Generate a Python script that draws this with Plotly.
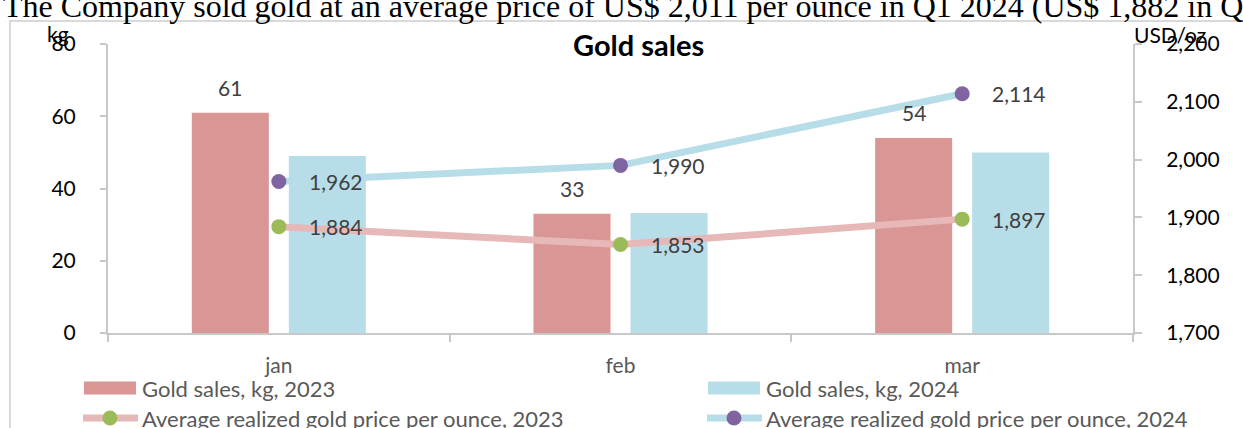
import plotly.graph_objects as go

# ---------------- data ----------------
months = ["jan", "feb", "mar"]
sales_kg_2023 = [61, 33, 54]
sales_kg_2024 = [49, 33.2, 50]
price_2023 = [1884, 1853, 1897]
price_2024 = [1962, 1990, 2114]

name_sales_2023 = "Gold sales, kg, 2023"
name_sales_2024 = "Gold sales, kg, 2024"
name_price_2023 = "Average realized gold price per ounce, 2023"
name_price_2024 = "Average realized gold price per ounce, 2024"
chart_title = "Gold sales"
left_unit = "kg"
right_unit = "USD/oz"
page_text = ("The Company sold gold at an average price of US$ 2,011 per ounce in Q1 2024 "
             "(US$ 1,882 in Q1 2023)")

# ---------------- styling ----------------
W, H = 1243, 428
ML, MR, MT, MB = 108, 110, 44, 95
PW = W - ML - MR
PH = H - MT - MB

C_BAR23 = "#D99694"
C_BAR24 = "#B7DEE8"
C_LINE23 = "#E6B9B8"
C_LINE24 = "#B7DEE8"
C_MK23 = "#9BBB59"
C_MK24 = "#8064A2"
AX = "#C8C8C8"
FONT = "Lato"
LEG_SIZE = 22


def px_x(px):
    return (px - ML) / PW


def px_y(py):
    return (H - MB - py) / PH


fig = go.Figure()
fig.add_trace(go.Bar(x=months, y=sales_kg_2023, name=name_sales_2023,
                     marker=dict(color=C_BAR23, line=dict(width=0)), yaxis="y"))
fig.add_trace(go.Bar(x=months, y=sales_kg_2024, name=name_sales_2024,
                     marker=dict(color=C_BAR24, line=dict(width=0)), yaxis="y"))
fig.add_trace(go.Scatter(x=months, y=price_2023, name=name_price_2023, mode="lines+markers",
                         line=dict(color=C_LINE23, width=7),
                         marker=dict(color=C_MK23, size=15), yaxis="y2"))
fig.add_trace(go.Scatter(x=months, y=price_2024, name=name_price_2024, mode="lines+markers",
                         line=dict(color=C_LINE24, width=7),
                         marker=dict(color=C_MK24, size=15), yaxis="y2"))

annotations = []
# bar value labels (2023 only)
for m, v in zip(months, sales_kg_2023):
    annotations.append(dict(x=m, y=v, xref="x", yref="y", text=f"{v:,}", showarrow=False,
                            xshift=-48.5, yshift=25, yanchor="middle",
                            font=dict(family=FONT, size=21, color="#404040")))
# price labels
for series in (price_2023, price_2024):
    for m, v in zip(months, series):
        annotations.append(dict(x=m, y=v, xref="x", yref="y2", text=f"{v:,}", showarrow=False,
                                xanchor="left", xshift=28, yanchor="middle",
                                font=dict(family=FONT, size=21, color="#404040")))

# title, units, page text
annotations.append(dict(x=px_x(638), y=px_y(44), xref="paper", yref="paper", text=f"<b>{chart_title}</b>",
                        showarrow=False, xanchor="center", yanchor="middle",
                        font=dict(family=FONT, size=29, color="#000000")))
annotations.append(dict(x=px_x(45), y=px_y(33), xref="paper", yref="paper", text=left_unit,
                        showarrow=False, xanchor="left", yanchor="middle",
                        font=dict(family=FONT, size=21, color="#000000")))
annotations.append(dict(x=px_x(1132), y=px_y(35), xref="paper", yref="paper", text=right_unit,
                        showarrow=False, xanchor="left", yanchor="middle",
                        font=dict(family=FONT, size=21, color="#000000")))
annotations.append(dict(x=px_x(1), y=px_y(6), xref="paper", yref="paper", text=page_text,
                        showarrow=False, xanchor="left", yanchor="middle",
                        font=dict(family="Liberation Serif", size=32, color="#000000")))

shapes = []
# outer chart frame (only top and left edges visible)
shapes.append(dict(type="rect", xref="paper", yref="paper",
                   x0=px_x(10), x1=px_x(1270), y0=px_y(460), y1=px_y(21),
                   line=dict(color="#D9D9D9", width=2), fillcolor="rgba(0,0,0,0)", layer="below"))

# manual legend
leg_cols = [84, 708]
leg_rows = [388, 418]
bar_items = [(name_sales_2023, C_BAR23), (name_sales_2024, C_BAR24)]
line_items = [(name_price_2023, C_LINE23, C_MK23), (name_price_2024, C_LINE24, C_MK24)]
for cx, (nm, col) in zip(leg_cols, bar_items):
    shapes.append(dict(type="rect", xref="paper", yref="paper",
                       x0=px_x(cx), x1=px_x(cx + 52), y0=px_y(leg_rows[0] + 6.5), y1=px_y(leg_rows[0] - 6.5),
                       line=dict(width=0), fillcolor=col))
    annotations.append(dict(x=px_x(cx + 56), y=px_y(leg_rows[0]), xref="paper", yref="paper", text=nm,
                            showarrow=False, xanchor="left", yanchor="middle",
                            font=dict(family=FONT, size=LEG_SIZE, color="#595959")))
for cx, (nm, lc, mc) in zip(leg_cols, line_items):
    shapes.append(dict(type="line", xref="paper", yref="paper",
                       x0=px_x(cx - 1), x1=px_x(cx + 54), y0=px_y(leg_rows[1]), y1=px_y(leg_rows[1]),
                       line=dict(color=lc, width=7)))
    shapes.append(dict(type="circle", xref="paper", yref="paper",
                       x0=px_x(cx + 26 - 7.5), x1=px_x(cx + 26 + 7.5),
                       y0=px_y(leg_rows[1] + 7.5), y1=px_y(leg_rows[1] - 7.5),
                       line=dict(width=0), fillcolor=mc))
    annotations.append(dict(x=px_x(cx + 56), y=px_y(leg_rows[1]), xref="paper", yref="paper", text=nm,
                            showarrow=False, xanchor="left", yanchor="middle",
                            font=dict(family=FONT, size=LEG_SIZE, color="#595959")))

fig.update_layout(
    width=W, height=H, autosize=False,
    margin=dict(l=ML, r=MR, t=MT, b=MB, pad=0),
    paper_bgcolor="white", plot_bgcolor="white",
    barmode="group", bargap=0.432, bargroupgap=0.206,
    showlegend=False,
    annotations=annotations, shapes=shapes,
    xaxis=dict(type="category", tickson="boundaries", ticks="outside", ticklen=7, tickwidth=2,
               tickcolor=AX, showline=True, linecolor=AX, linewidth=2, showgrid=False,
               tickfont=dict(family=FONT, size=21, color="#595959"), ticklabelstandoff=13,
               fixedrange=True),
    yaxis=dict(range=[0, 80], dtick=20, ticks="outside", ticklen=6, tickwidth=2, tickcolor=AX,
               showline=True, linecolor=AX, linewidth=2, showgrid=False, zeroline=False,
               tickfont=dict(family=FONT, size=21, color="#000000"), ticklabelstandoff=20),
    yaxis2=dict(range=[1700, 2200], dtick=100, overlaying="y", side="right", tickformat=",",
                ticks="outside", ticklen=7, tickwidth=2, tickcolor=AX,
                showline=True, linecolor=AX, linewidth=2, showgrid=False, zeroline=False,
                tickfont=dict(family=FONT, size=21, color="#000000"), ticklabelstandoff=20),
)

fig.write_html("out.html", config={"displayModeBar": False},
               post_script="document.body.style.margin='0px';document.body.style.overflow='hidden';")
